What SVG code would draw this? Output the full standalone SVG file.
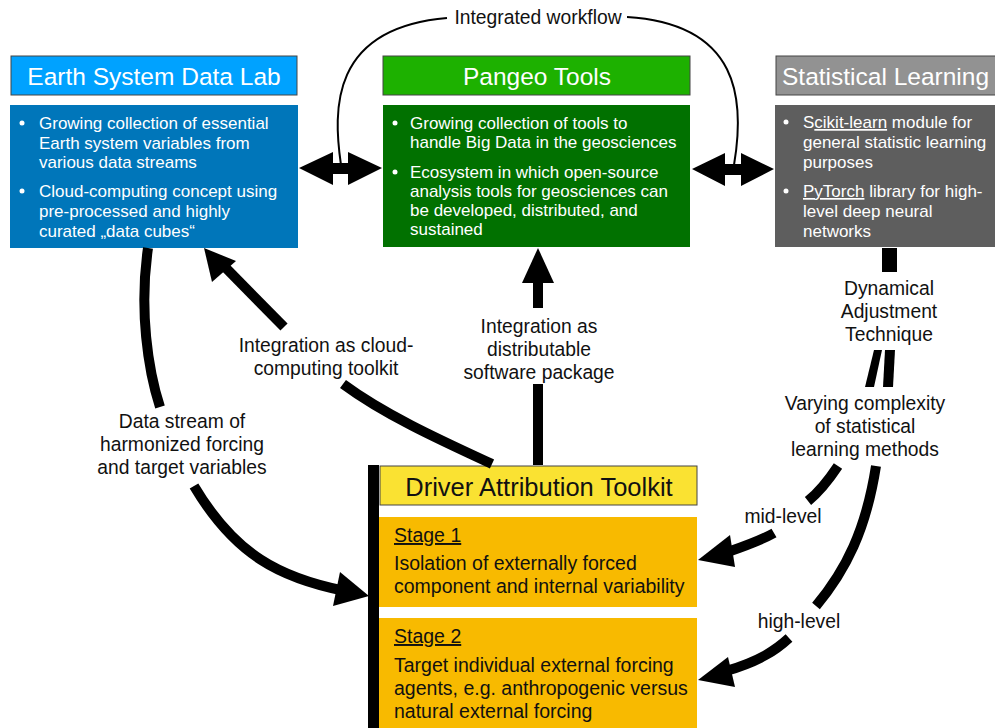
<svg xmlns="http://www.w3.org/2000/svg" width="995" height="728" viewBox="0 0 995 728">
<style>
text{font-family:"Liberation Sans",Arial,sans-serif;}
.title{font-size:24.5px;fill:#fff;}
.body{font-size:17px;fill:#fff;}
.dark{font-size:19.5px;fill:#111;}
.lbl{font-size:19.3px;fill:#111;text-anchor:middle;}
.thick{fill:none;stroke:#000;stroke-width:10;}
.thin{fill:none;stroke:#000;stroke-width:2;}
.u{text-decoration:underline;}
</style>
<rect width="995" height="728" fill="#fff"/>
<g id="esdl">
<rect x="11" y="56" width="286" height="39" fill="#00A2FF" stroke="#444" stroke-width="1"/>
<text class="title" x="154" y="85" text-anchor="middle">Earth System Data Lab</text>
<rect x="10" y="105" width="288" height="143" fill="#0076BA"/>
<circle cx="22" cy="123" r="2.5" fill="#fff"/>
<text class="body" x="39" y="129">Growing collection of essential</text>
<text class="body" x="39" y="149">Earth system variables from</text>
<text class="body" x="39" y="168">various data streams</text>
<circle cx="22" cy="191" r="2.5" fill="#fff"/>
<text class="body" x="39" y="197">Cloud-computing concept using</text>
<text class="body" x="39" y="217">pre-processed and highly</text>
<text class="body" x="39" y="237">curated „data cubes“</text>
</g>
<g id="pangeo">
<rect x="383" y="56" width="307" height="39" fill="#1DB100" stroke="#444" stroke-width="1"/>
<text class="title" x="537" y="85" text-anchor="middle">Pangeo Tools</text>
<rect x="383" y="105" width="307" height="142" fill="#017100"/>
<circle cx="395" cy="123" r="2.5" fill="#fff"/>
<text class="body" x="410" y="129">Growing collection of tools to</text>
<text class="body" x="410" y="148">handle Big Data in the geosciences</text>
<circle cx="395" cy="172" r="2.5" fill="#fff"/>
<text class="body" x="410" y="178">Ecosystem in which open-source</text>
<text class="body" x="410" y="197">analysis tools for geosciences can</text>
<text class="body" x="410" y="216">be developed, distributed, and</text>
<text class="body" x="410" y="235">sustained</text>
</g>
<g id="statlearn">
<rect x="776" y="56" width="225" height="39" fill="#929292" stroke="#444" stroke-width="1"/>
<text class="title" x="782" y="85">Statistical Learning</text>
<rect x="775" y="105" width="220" height="142" fill="#5E5E5E"/>
<circle cx="786" cy="122" r="2.5" fill="#fff"/>
<text class="body" x="803" y="128">S<tspan class="u">cikit-learn</tspan> module for</text>
<text class="body" x="803" y="148">general statistic learning</text>
<text class="body" x="803" y="168">purposes</text>
<circle cx="786" cy="191" r="2.5" fill="#fff"/>
<text class="body" x="803" y="197"><tspan class="u">PyTorch</tspan> library for high-</text>
<text class="body" x="803" y="217">level deep neural</text>
<text class="body" x="803" y="237">networks</text>
</g>
<g id="dat">
<rect x="368" y="465" width="11" height="263" fill="#000"/>
<rect x="380" y="466" width="317" height="39" fill="#FAE232" stroke="#444" stroke-width="1"/>
<text x="539" y="496" text-anchor="middle" style="font-size:25.5px;fill:#111">Driver Attribution Toolkit</text>
<rect x="379" y="517" width="318" height="90" fill="#F8BA00"/>
<text class="dark" x="394" y="542"><tspan class="u">Stage 1</tspan></text>
<text class="dark" x="394" y="570">Isolation of externally forced</text>
<text class="dark" x="394" y="593">component and internal variability</text>
<rect x="379" y="618" width="318" height="110" fill="#F8BA00"/>
<text class="dark" x="394" y="643"><tspan class="u">Stage 2</tspan></text>
<text class="dark" x="394" y="672">Target individual external forcing</text>
<text class="dark" x="394" y="695">agents, e.g. anthropogenic versus</text>
<text class="dark" x="394" y="718">natural external forcing</text>
</g>
<g id="connectors">
<path class="thin" d="M341,165 C333,110 330,28 447,18"/>
<path class="thin" d="M627,17 C740,24 745,100 734,165"/>
<text class="lbl" x="538" y="24">Integrated workflow</text>
<polygon points="299,168 333,152 333,163 348,163 348,152 382,168 348,185 348,174 333,174 333,185"/>
<polygon points="692,169 725,153 725,164 741,164 741,153 774,169 741,186 741,175 725,175 725,186"/>
<path class="thick" d="M148,248 C139,310 148,370 160,407"/>
<text class="lbl" x="182" y="428">Data stream of</text>
<text class="lbl" x="182" y="451">harmonized forcing</text>
<text class="lbl" x="182" y="474">and target variables</text>
<path class="thick" d="M194,486 C235,555 280,578 345,591"/>
<polygon points="369,596 340,572 333,606"/>
<path class="thick" d="M492,464 C440,440 385,415 343,384"/>
<path class="thick" d="M284,327 L222,264"/>
<polygon points="204,248 212,282 236,261"/>
<text class="lbl" x="326" y="352">Integration as cloud-</text>
<text class="lbl" x="326" y="375">computing toolkit</text>
<path class="thick" d="M538,465 L538,384"/>
<path class="thick" d="M538,308 L538,278"/>
<polygon points="538,248 522,283 554,283"/>
<text class="lbl" x="539" y="333">Integration as</text>
<text class="lbl" x="539" y="356">distributable</text>
<text class="lbl" x="539" y="379">software package</text>
<path d="M882,248 L897,248 L897,272 L882,272 Z" fill="#000"/>
<text class="lbl" x="889" y="295">Dynamical</text>
<text class="lbl" x="889" y="318">Adjustment</text>
<text class="lbl" x="889" y="341">Technique</text>
<path d="M874,350 L882,350 L874,387 L865,387 Z" fill="#000"/>
<path d="M885,350 L895,350 L893,387 L883,387 Z" fill="#000"/>
<text class="lbl" x="865" y="410">Varying complexity</text>
<text class="lbl" x="865" y="433">of statistical</text>
<text class="lbl" x="865" y="456">learning methods</text>
<path class="thick" d="M838,466 C828,481 818,493 808,501"/>
<text class="lbl" x="783" y="523">mid-level</text>
<path class="thick" d="M774,533 C760,541 745,546 725,553"/>
<polygon points="698,560 730,535 735,567"/>
<path class="thick" d="M876,466 C866,530 846,570 816,606"/>
<text class="lbl" x="799" y="628">high-level</text>
<path class="thick" d="M789,638 C776,650 760,661 726,671"/>
<polygon points="698,680 728,657 735,687"/>
</g>
</svg>
